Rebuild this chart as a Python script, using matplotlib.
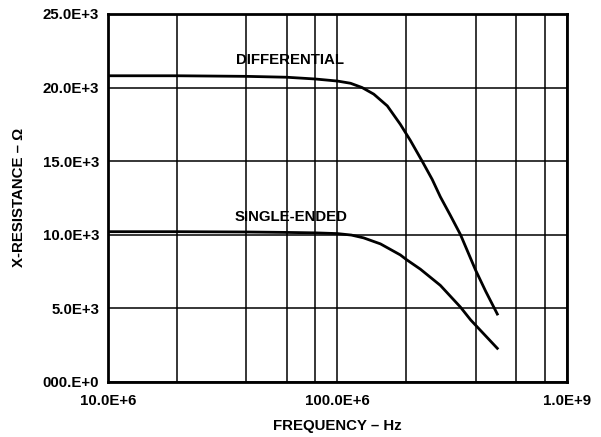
import matplotlib.pyplot as plt
from matplotlib.ticker import FixedLocator, NullLocator

# frequencies in Hz, resistance in ohms
diff_freq = [10e6, 20e6, 40e6, 60e6, 80e6, 100e6, 114e6, 128e6, 144e6, 165e6,
             188e6, 208e6, 234e6, 259e6, 281e6, 311e6, 344e6, 400e6, 443e6, 498e6]
diff_res = [20.8e3, 20.8e3, 20.76e3, 20.7e3, 20.58e3, 20.44e3, 20.29e3, 20.0e3,
            19.55e3, 18.75e3, 17.5e3, 16.4e3, 15.0e3, 13.75e3, 12.57e3, 11.3e3,
            10.0e3, 7.6e3, 6.15e3, 4.6e3]

se_freq = [10e6, 20e6, 40e6, 60e6, 80e6, 100e6, 115e6, 130e6, 154e6, 188e6,
           200e6, 230e6, 281e6, 344e6, 381e6, 498e6]
se_res = [10.2e3, 10.2e3, 10.18e3, 10.15e3, 10.12e3, 10.07e3, 9.97e3, 9.78e3,
          9.37e3, 8.62e3, 8.3e3, 7.65e3, 6.55e3, 5.07e3, 4.2e3, 2.27e3]

x_ticks = [10e6, 100e6, 1e9]
x_tick_labels = ["10.0E+6", "100.0E+6", "1.0E+9"]
x_grid = [20e6, 40e6, 60e6, 80e6, 200e6, 400e6, 600e6, 800e6]
y_ticks = [0, 5e3, 10e3, 15e3, 20e3, 25e3]
y_tick_labels = ["000.E+0", "5.0E+3", "10.0E+3", "15.0E+3", "20.0E+3", "25.0E+3"]

plt.rcParams['font.family'] = ['Liberation Sans', 'DejaVu Sans']
plt.rcParams['font.weight'] = 'bold'
fs = 10.8

fig = plt.figure(figsize=(6.01, 4.37), dpi=100)
ax = fig.add_axes([0.18, 0.1265, 0.763, 0.8415])

ax.set_xscale('log')
ax.set_xlim(10e6, 1e9)
ax.set_ylim(0, 25e3)

for xg in x_grid + x_ticks:
    ax.axvline(xg, color='black', lw=1.1, zorder=1)
for yg in y_ticks:
    ax.axhline(yg, color='black', lw=1.1, zorder=1)

ax.plot(diff_freq, diff_res, color='black', lw=2, zorder=3)
ax.plot(se_freq, se_res, color='black', lw=2, zorder=3)

ax.text(62e6, 21.87e3, "DIFFERENTIAL", ha='center', va='center',
        fontsize=fs, fontweight='bold')
ax.text(63e6, 11.18e3, "SINGLE-ENDED", ha='center', va='center',
        fontsize=fs, fontweight='bold')

ax.xaxis.set_major_locator(FixedLocator(x_ticks))
ax.xaxis.set_minor_locator(NullLocator())
ax.set_xticklabels(x_tick_labels)
ax.yaxis.set_major_locator(FixedLocator(y_ticks))
ax.set_yticklabels(y_tick_labels)
ax.tick_params(axis='x', length=0, labelsize=fs, pad=9)
ax.tick_params(axis='y', length=0, labelsize=fs, pad=6.5)
for lab in ax.get_xticklabels() + ax.get_yticklabels():
    lab.set_fontweight('bold')

for sp in ax.spines.values():
    sp.set_linewidth(2)

ax.set_xlabel("FREQUENCY – Hz", fontsize=fs, fontweight='bold', labelpad=8)
ax.set_ylabel("X-RESISTANCE – Ω", fontsize=fs, fontweight='bold', labelpad=12)

fig.savefig("out.png", dpi=100)
